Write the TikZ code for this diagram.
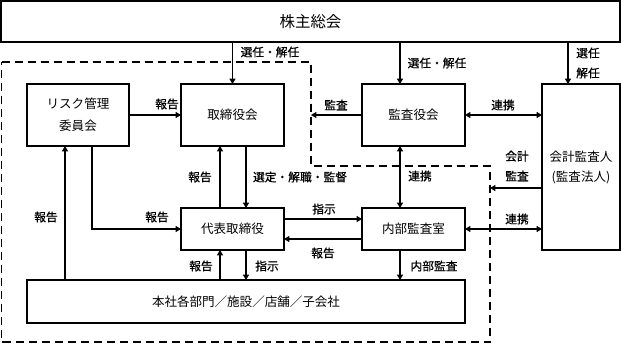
\documentclass[tikz,border=0pt]{standalone}
\usepackage{fontspec}
\setmainfont{Noto Sans CJK JP}
\newfontfamily\lblfont[FakeBold=0.7]{Noto Sans CJK JP}
\usetikzlibrary{arrows.meta}
\tikzset{
  box/.style={draw, line width=0.8pt, inner sep=0pt, outer sep=0pt, align=center,
    font=\fontsize{9.4}{16.5}\selectfont},
  lbl/.style={inner sep=0pt, align=center, font=\lblfont\fontsize{8.8}{15}\selectfont},
  arr/.style={line width=0.8pt, -{Triangle[length=4pt,width=4.5pt]}},
  darr/.style={line width=0.8pt, {Triangle[length=4pt,width=4.5pt]}-{Triangle[length=4pt,width=4.5pt]}},
  bound/.style={line width=1.1pt, dash pattern=on 6pt off 3.75pt}
}
\begin{document}
\begin{tikzpicture}[x=0.75pt, y=-0.75pt]
\useasboundingbox (0,0) rectangle (621,344);
% boundary
\draw[bound] (1.5,62) -- (311,62) -- (311,166) -- (490,166) -- (490,342) -- (1.5,342) -- cycle;
% boxes
\node[box, minimum width=0.75*619pt, minimum height=0.75*41pt, font=\fontsize{11.6}{14}\selectfont] (gm) at (310.5,21.5) {株主総会};
\node[box, minimum width=0.75*102pt, minimum height=0.75*62pt] (risk) at (78,115) {リスク管理\\委員会};
\node[box, minimum width=0.75*103pt, minimum height=0.75*62pt] (board) at (232.5,115) {取締役会};
\node[box, minimum width=0.75*103pt, minimum height=0.75*62pt] (kansa) at (413.5,115) {監査役会};
\node[box, minimum width=0.75*78pt, minimum height=0.75*166pt, font=\fontsize{9.4}{15}\selectfont] (aud) at (581,167) {会計監査人\\(監査法人)};
\node[box, minimum width=0.75*103pt, minimum height=0.75*42pt] (ceo) at (232.5,229) {代表取締役};
\node[box, minimum width=0.75*103pt, minimum height=0.75*42pt] (ia) at (413.5,229) {内部監査室};
\node[box, minimum width=0.75*438pt, minimum height=0.75*43pt] (hq) at (246,301.5) {本社各部門／施設／店舗／子会社};
% helper coordinates
\coordinate (x65) at (65,0);
\coordinate (x92) at (92,0);
\coordinate (x220) at (220,0);
\coordinate (x246) at (246,0);
\coordinate (x400) at (400,0);
\coordinate (x568) at (568,0);
\coordinate (y219) at (0,219);
\coordinate (y239) at (0,239);
\coordinate (d1) at (311,115);
\coordinate (d2) at (490,188);
% connectors
\draw[arr] (gm.south -| board.north) -- (board.north);
\draw[arr] (gm.south -| x400) -- (kansa.north -| x400);
\draw[arr] (gm.south -| x568) -- (aud.north -| x568);
\draw[arr] (risk.east) -- (board.west);
\draw[arr] (kansa.west) -- (d1);
\draw[darr] (kansa.east) -- (kansa.east -| aud.west);
\draw[arr] (ceo.north -| x220) -- (board.south -| x220);
\draw[arr] (board.south -| x246) -- (ceo.north -| x246);
\draw[darr] (kansa.south -| x400) -- (ia.north -| x400);
\draw[arr] (aud.west |- d2) -- (d2);
\draw[darr] (ia.east) -- (ia.east -| aud.west);
\draw[arr] (ceo.east |- y219) -- (ia.west |- y219);
\draw[arr] (ia.west |- y239) -- (ceo.east |- y239);
\draw[arr] (risk.south -| x92) |- (ceo.west);
\draw[arr] (hq.north -| x65) -- (risk.south -| x65);
\draw[arr] (hq.north -| x220) -- (ceo.south -| x220);
\draw[arr] (ceo.south -| x246) -- (hq.north -| x246);
\draw[arr] (ia.south -| x400) -- (hq.north -| x400);
% labels
\node[lbl] (l1) at (270,52) {選任・解任};
\node[lbl] (l2) at (437,63) {選任・解任};
\node[lbl] (l3) at (588,63) {選任\\解任};
\node[lbl] (l4) at (167,104) {報告};
\node[lbl] (l5) at (336,105) {監査};
\node[lbl] (l6) at (503,105) {連携};
\node[lbl] (l7) at (200,177) {報告};
\node[lbl] (l8) at (300,177) {選定・解職・監督};
\node[lbl] (l9) at (420,176) {連携};
\node[lbl] (l10) at (517,166) {会計\\監査};
\node[lbl] (l11) at (46,217) {報告};
\node[lbl] (l12) at (157,217) {報告};
\node[lbl] (l13) at (324,209) {指示};
\node[lbl] (l14) at (323,253) {報告};
\node[lbl] (l15) at (517,219) {連携};
\node[lbl] (l16) at (201,266) {報告};
\node[lbl] (l17) at (267,266) {指示};
\node[lbl] (l18) at (434,266) {内部監査};
\end{tikzpicture}
\end{document}
